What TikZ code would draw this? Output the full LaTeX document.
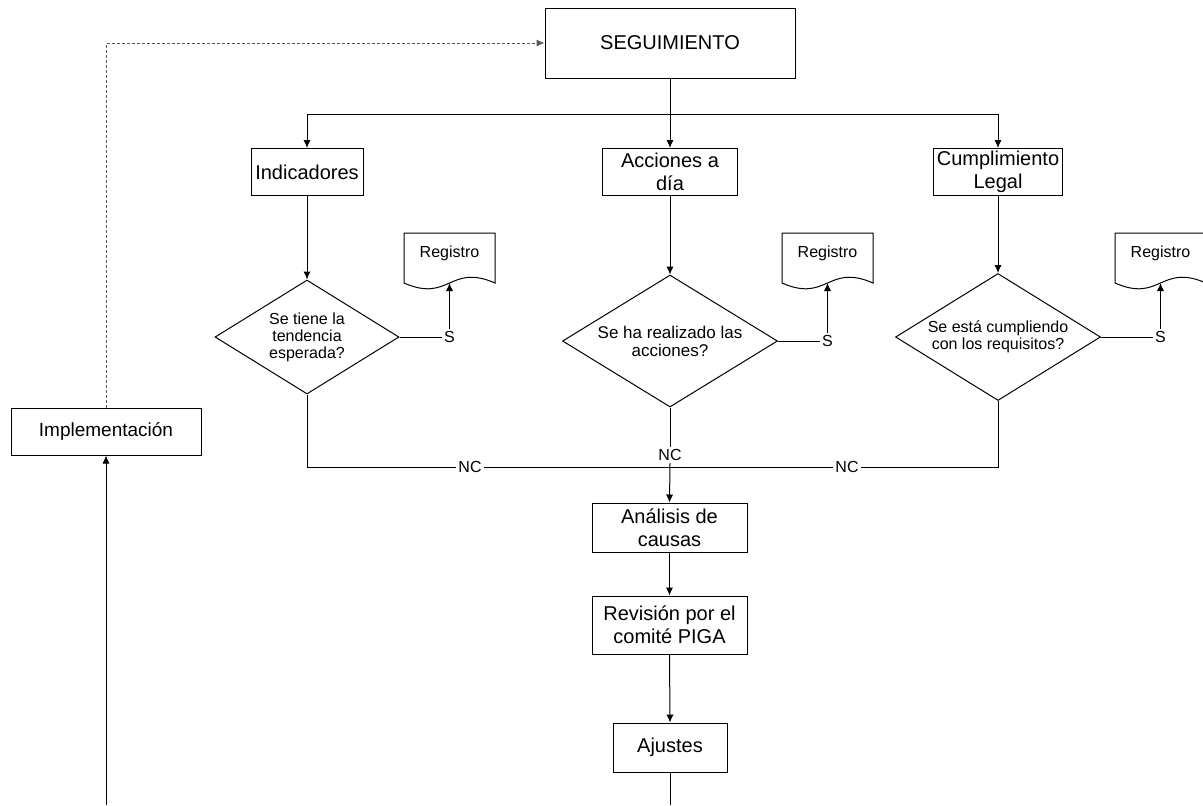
\documentclass[tikz,border=0pt]{standalone}
\usepackage{fontspec}
\setmainfont{Liberation Sans}
\usetikzlibrary{shapes.geometric, arrows.meta}

\tikzset{
  caja/.style={draw, line width=0.5pt, inner sep=0pt, align=center, font=\fontsize{10}{11.5}\selectfont},
  decision/.style={draw, diamond, line width=0.5pt, inner sep=0pt, align=center, font=\fontsize{8}{8.5}\selectfont},
  etiqueta/.style={fill=white, inner sep=1pt, font=\fontsize{8}{9}\selectfont},
  conector/.style={line width=0.5pt},
  flecha/.style={-{Latex[length=4pt, width=3.6pt]}},
}

\begin{document}
\begin{tikzpicture}[x=0.5pt, y=-0.5pt]
    \useasboundingbox (0,0) rectangle (1203,805);

    \node[caja, minimum width=125pt, minimum height=35pt] (seg) at (670,43) {SEGUIMIENTO};
    \node[caja, minimum width=56pt, minimum height=23.5pt] (ind) at (307,172) {Indicadores};
    \node[caja, minimum width=67.5pt, minimum height=23.5pt] (acc) at (670,172) {Acciones a\\día};
    \node[caja, minimum width=64.5pt, minimum height=23.5pt] (cum) at (998,172) {Cumplimiento\\Legal};

    \coordinate (rama) at (670,114);
    \draw[conector, flecha] (seg.south) -- (acc.north);
    \draw[conector, flecha] (rama) -| (ind.north);
    \draw[conector, flecha] (rama) -| (cum.north);

    \node[decision, minimum width=92pt, minimum height=57pt, aspect=1.6] (d1) at (307,337) {Se tiene la\\tendencia\\esperada?};
    \node[decision, minimum width=107.5pt, minimum height=66pt, aspect=1.63, font=\fontsize{8.5}{9}\selectfont] (d2) at (670,341) {Se ha realizado las\\acciones?};
    \node[decision, minimum width=102.5pt, minimum height=63.5pt, aspect=1.6] (d3) at (998,337) {Se está cumpliendo\\con los requisitos?};

    \draw[conector, flecha] (ind.south) -- (d1.north);
    \draw[conector, flecha] (acc.south) -- (d2.north);
    \draw[conector, flecha] (cum.south) -- (d3.north);

    \foreach \n/\x in {1/449.5, 2/827.5, 3/1160.5} {
        \node[font=\fontsize{8}{9}\selectfont] (reg\n) at (\x,253) {Registro};
        \draw[conector] (\x-45.5,283) -- (\x-45.5,233) -- (\x+45.5,233) -- (\x+45.5,283)
            .. controls (\x,263) and (\x,303) .. (\x-45.5,283) -- cycle;
        \coordinate (onda\n) at (\x,283);
    }

    \node[etiqueta] (s1) at (449.5,337) {S};
    \node[etiqueta] (s2) at (827.5,341) {S};
    \node[etiqueta] (s3) at (1160.5,337) {S};
    \draw[conector] (d1.east) -- (s1.west);
    \draw[conector] (d2.east) -- (s2.west);
    \draw[conector] (d3.east) -- (s3.west);
    \draw[conector, flecha] (s1.north) -- (onda1);
    \draw[conector, flecha] (s2.north) -- (onda2);
    \draw[conector, flecha] (s3.north) -- (onda3);

    \node[etiqueta] (nc1) at (470,467) {NC};
    \node[etiqueta] (nc2) at (670,455) {NC};
    \node[etiqueta] (nc3) at (847,467) {NC};

    \node[caja, minimum width=77.5pt, minimum height=24.5pt] (ana) at (669.5,527.5) {Análisis de\\causas};
    \node[caja, minimum width=77.5pt, minimum height=29pt] (rev) at (669.5,625) {Revisión por el\\comité PIGA};
    \node[caja, minimum width=57pt, minimum height=24.5pt] (aju) at (670,747.5) {Ajustes};
    \node[caja, minimum width=95pt, minimum height=23.5pt, font=\fontsize{9.5}{11}\selectfont] (imp) at (106,431.5) {Implementación};

    \draw[conector] (d1.south) |- (nc1.west);
    \draw[conector] (nc1.east) -- (nc3.west);
    \draw[conector] (d3.south) |- (nc3.east);
    \draw[conector] (d2.south) -- (nc2.north);
    \draw[conector, flecha] (nc2.south) -- (ana.north);
    \draw[conector, flecha] (ana.south) -- (rev.north);
    \draw[conector, flecha] (rev.south) -- (aju.north);

    \coordinate (fin1) at (670,805);
    \coordinate (fin2) at (106,805);
    \draw[conector] (aju.south) -- (fin1);
    \draw[conector, flecha] (fin2) -- (imp.south);
    \draw[conector, dash pattern=on 1.5pt off 1pt, gray!70!black, flecha] (imp.north) |- (seg.west);
\end{tikzpicture}
\end{document}
